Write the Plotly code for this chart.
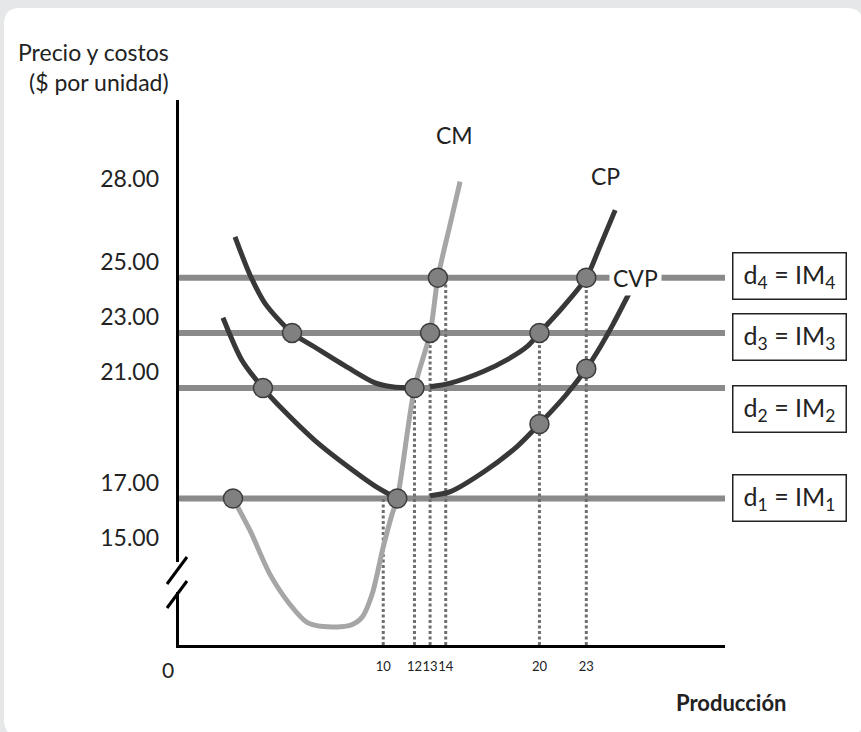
import plotly.graph_objects as go

# ---------------- data ----------------
price_levels = [17, 21, 23, 25]
demand_labels = ["d<sub>1</sub> = IM<sub>1</sub>", "d<sub>2</sub> = IM<sub>2</sub>",
                 "d<sub>3</sub> = IM<sub>3</sub>", "d<sub>4</sub> = IM<sub>4</sub>"]

y_tick_vals = [28, 25, 23, 21, 17, 15]
y_tick_text = ["28.00", "25.00", "23.00", "21.00", "17.00", "15.00"]
x_tick_vals = [10, 12, 13, 14, 20, 23]
x_tick_text = ["10", "12", "13", "14", "20", "23"]

# marginal cost (CM)
cm_q = [0.38, 1.47, 2.75, 4.03, 5.12, 6.15, 7.87, 8.64, 9.28, 9.99, 10.56, 10.9, 12.0, 13.0, 13.5, 14.28, 14.92]
cm_c = [17.0, 15.84, 14.25, 13.16, 12.51, 12.36, 12.40, 12.69, 13.52, 15.22, 16.42, 17.0, 21.0, 23.0, 25.0, 26.93, 28.48]

# average total cost (CP)
cp_left_q = [0.51, 1.47, 2.43, 4.16, 5.63, 7.75, 9.48, 10.56, 12.0]
cp_left_c = [26.48, 25.10, 24.07, 23.0, 22.48, 21.74, 21.19, 21.05, 21.0]
cp_right_q = [13.0, 14.3, 16.4, 18.0, 19.2, 20.0, 21.6, 23.0, 23.85, 24.85]
cp_right_c = [21.05, 21.18, 21.6, 22.05, 22.5, 23.0, 24.0, 25.0, 26.1, 27.45]

# average variable cost (CVP)
cvp_left_q = [-0.26, 0.96, 2.3, 3.52, 5.63, 7.75, 9.48, 10.56, 10.9]
cvp_left_c = [23.55, 22.0, 21.0, 20.25, 19.1, 18.15, 17.45, 17.1, 17.0]
cvp_right_q = [13.0, 14.3, 16.4, 18.6, 20.0, 21.7, 23.0, 23.9, 24.7, 25.8]
cvp_right_c = [17.1, 17.25, 17.95, 18.9, 19.7, 20.75, 21.7, 22.5, 23.3, 24.5]

# highlighted points
dots_q = [0.38, 2.3, 4.16, 10.9, 12.0, 13.0, 13.5, 20.0, 23.0, 20.0, 23.0]
dots_c = [17.0, 21.0, 23.0, 17.0, 21.0, 23.0, 25.0, 23.0, 25.0, 19.7, 21.7]

# dotted drop lines (quantity, price level they start from)
drop_q = [10, 12, 13, 14, 20, 23]
drop_c = [17, 21, 23, 25, 23, 25]

# ---------------- styling ----------------
X_MIN, X_MAX = -3.14, 31.88
Y_MIN, Y_MAX = 11.69, 31.44
FONT = "Lato"
TXT = "#222222"
LINE_GRAY = "#8a8a8a"
CM_GRAY = "#a6a6a6"
DARK = "#383838"

L, T, W_PLOT, H_PLOT = 178, 100, 547, 545
W, H = 861, 732


def px(xp):
    return (xp - L) / W_PLOT


def py(yp):
    return (T + H_PLOT - yp) / H_PLOT


fig = go.Figure()

# demand / marginal revenue lines
for lvl in price_levels:
    fig.add_trace(go.Scatter(x=[X_MIN, X_MAX], y=[lvl, lvl], mode="lines",
                             line=dict(color=LINE_GRAY, width=6), hoverinfo="skip"))

# dotted drop lines
for q, c in zip(drop_q, drop_c):
    fig.add_trace(go.Scatter(x=[q, q], y=[Y_MIN, c], mode="lines",
                             line=dict(color="#6e6e6e", width=3, dash="3px,2.5px"), hoverinfo="skip"))

# cost curves
fig.add_trace(go.Scatter(x=cm_q, y=cm_c, mode="lines",
                         line=dict(color=CM_GRAY, width=5, shape="spline", smoothing=0.8)))
for qq, cc in [(cp_left_q, cp_left_c), (cp_right_q, cp_right_c),
               (cvp_left_q, cvp_left_c), (cvp_right_q, cvp_right_c)]:
    fig.add_trace(go.Scatter(x=qq, y=cc, mode="lines",
                             line=dict(color=DARK, width=5, shape="spline", smoothing=0.8)))

# points
fig.add_trace(go.Scatter(x=dots_q, y=dots_c, mode="markers",
                         marker=dict(size=19, color="#808080", line=dict(color="#3c3c3c", width=1.5))))

# ---------------- shapes ----------------
r = 16
x0, y0, x1, y1 = 4, 8, 863, 736
path = (f"M {px(x0 + r)} {py(y0)} L {px(x1 - r)} {py(y0)} Q {px(x1)} {py(y0)} {px(x1)} {py(y0 + r)} "
        f"L {px(x1)} {py(y1 - r)} Q {px(x1)} {py(y1)} {px(x1 - r)} {py(y1)} "
        f"L {px(x0 + r)} {py(y1)} Q {px(x0)} {py(y1)} {px(x0)} {py(y1 - r)} "
        f"L {px(x0)} {py(y0 + r)} Q {px(x0)} {py(y0)} {px(x0 + r)} {py(y0)} Z")
shapes = [
    dict(type="path", xref="paper", yref="paper", path=path, fillcolor="white",
         line=dict(width=0), layer="below"),
    # y axis with break
    dict(type="line", xref="paper", yref="paper", x0=px(177.5), x1=px(177.5), y0=py(100), y1=py(562),
         line=dict(color="black", width=3)),
    dict(type="line", xref="paper", yref="paper", x0=px(177.5), x1=px(177.5), y0=py(592), y1=py(648),
         line=dict(color="black", width=3)),
    dict(type="line", xref="paper", yref="paper", x0=px(167), x1=px(187), y0=py(584), y1=py(557),
         line=dict(color="black", width=3)),
    dict(type="line", xref="paper", yref="paper", x0=px(167), x1=px(187), y0=py(608), y1=py(581),
         line=dict(color="black", width=3)),
]


def note(text, xp, yp, size, xanchor="center", **kw):
    d = dict(text=text, x=px(xp), y=py(yp), xref="paper", yref="paper", showarrow=False,
             xanchor=xanchor, yanchor="middle", font=dict(family=FONT, size=size, color=TXT))
    d.update(kw)
    return d


ann = [
    note("Precio y costos<br>(\u0024 por unidad)", 171, 67, 23, xanchor="right", align="right"),
    note("0", 168, 669, 21),
    note("<b>Producción</b>", 732, 702, 22),
    note("CM", 455, 135, 23),
    note("CP", 605, 176, 23),
    note("CVP", 635, 278, 23, bgcolor="white", borderpad=3),
]
box_centers = [497.5, 408.5, 336.5, 275.5]
for lab, yc in zip(demand_labels, box_centers):
    ann.append(note(lab, 789, yc, 25, width=110, height=43, borderpad=1,
                    bordercolor="#222", borderwidth=1.5, bgcolor="white"))

fig.update_layout(
    width=W, height=H,
    margin=dict(l=L, r=W - L - W_PLOT, t=T, b=H - T - H_PLOT),
    paper_bgcolor="#e6e7e8", plot_bgcolor="rgba(0,0,0,0)",
    showlegend=False,
    shapes=shapes, annotations=ann,
    xaxis=dict(range=[X_MIN, X_MAX], showgrid=False, zeroline=False,
               showline=True, linecolor="black", linewidth=3,
               tickmode="array", tickvals=x_tick_vals, ticktext=x_tick_text, tickangle=0,
               ticks="", ticklabelstandoff=7,
               tickfont=dict(family=FONT, size=13, color=TXT)),
    yaxis=dict(range=[Y_MIN, Y_MAX], showgrid=False, zeroline=False, showline=False,
               tickmode="array", tickvals=y_tick_vals, ticktext=y_tick_text,
               ticks="", ticklabelstandoff=18, ticklabelshift=-16,
               tickfont=dict(family=FONT, size=23, color=TXT)),
)

fig.write_html("out.html", config={"displayModeBar": False},
               post_script="document.body.style.margin='0';document.body.style.background='#e6e7e8';")
